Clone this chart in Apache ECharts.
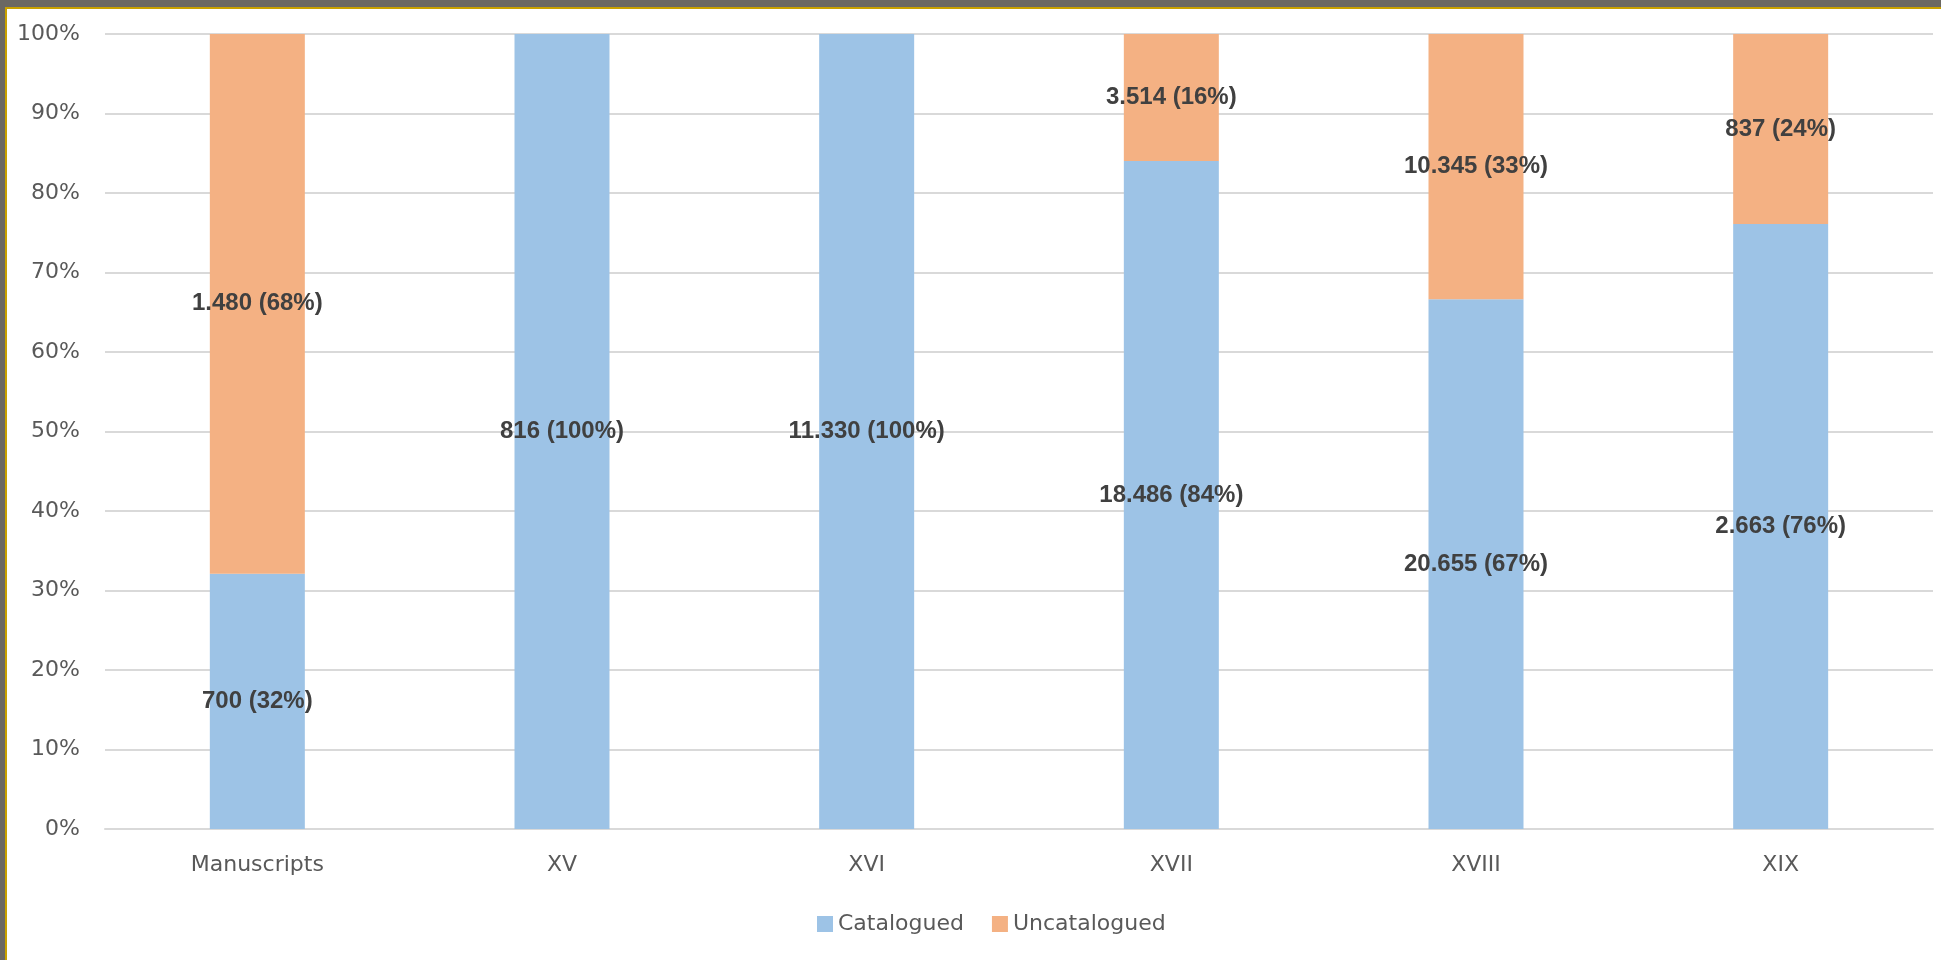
<!DOCTYPE html>
<html>
<head>
<meta charset="utf-8">
<script src="https://cdn.jsdelivr.net/npm/echarts@6/dist/echarts.min.js"></script>
<style>
html,body{margin:0;padding:0;width:1941px;height:960px;overflow:hidden;background:#6b6863;}
#bg{position:absolute;left:5px;top:7px;width:1936px;height:953px;background:#fff;border-top:2px solid #c9a100;border-left:2px solid #c9a100;box-sizing:border-box;}
#chart{position:absolute;left:0;top:0;width:1941px;height:960px;}
</style>
</head>
<body>
<div id="bg"></div>
<div id="chart"></div>
<script>
const categories = ['Manuscripts', 'XV', 'XVI', 'XVII', 'XVIII', 'XIX'];
const catalogued = [700, 816, 11330, 18486, 20655, 2663];
const uncatalogued = [1480, 0, 0, 3514, 10345, 837];
const seriesNames = ['Catalogued', 'Uncatalogued'];
const colors = ['#9DC3E6', '#F4B183'];

const totals = categories.map((c, i) => catalogued[i] + uncatalogued[i]);
const share = (arr) => arr.map((v, i) => v / totals[i] * 100);
const fmtCount = (n) => String(n).replace(/\B(?=(\d{3})+(?!\d))/g, '.');
const makeLabel = (arr) => (p) => arr[p.dataIndex] === 0 ? '' :
  fmtCount(arr[p.dataIndex]) + ' (' + Math.round(arr[p.dataIndex] / totals[p.dataIndex] * 100) + '%)';

const axisFont = '"DejaVu Sans", sans-serif';
const labelFont = '"Liberation Sans", Arial, sans-serif';
const chart = echarts.init(document.getElementById('chart'), null, {renderer: 'canvas'});
const labelCfg = (arr) => ({
  show: true, position: 'inside', formatter: makeLabel(arr),
  fontFamily: labelFont, fontSize: 24, fontWeight: 'bold', color: '#404040'
});
chart.setOption({
  backgroundColor: 'transparent',
  animation: false,
  grid: {left: 105, right: 8, top: 34, bottom: 131, containLabel: false},
  legend: {
    data: seriesNames, bottom: 20, left: 812,
    itemWidth: 16, itemHeight: 16, itemGap: 28, icon: 'rect',
    textStyle: {fontFamily: axisFont, fontSize: 22, color: '#595959'}
  },
  xAxis: {
    type: 'category', data: categories,
    axisLine: {lineStyle: {color: '#d9d9d9', width: 2}},
    axisTick: {show: false},
    axisLabel: {fontFamily: axisFont, fontSize: 22, color: '#595959', margin: 25}
  },
  yAxis: {
    type: 'value', min: 0, max: 100, interval: 10,
    axisLabel: {formatter: '{value}%', fontFamily: axisFont, fontSize: 22, color: '#595959', margin: 25},
    axisLine: {show: false}, axisTick: {show: false},
    splitLine: {lineStyle: {color: '#d9d9d9', width: 2}}
  },
  series: [
    {name: seriesNames[0], type: 'bar', stack: 'total', barWidth: 95, data: share(catalogued),
     itemStyle: {color: colors[0]}, label: labelCfg(catalogued)},
    {name: seriesNames[1], type: 'bar', stack: 'total', barWidth: 95, data: share(uncatalogued),
     itemStyle: {color: colors[1]}, label: labelCfg(uncatalogued)}
  ]
});
</script>
</body>
</html>
